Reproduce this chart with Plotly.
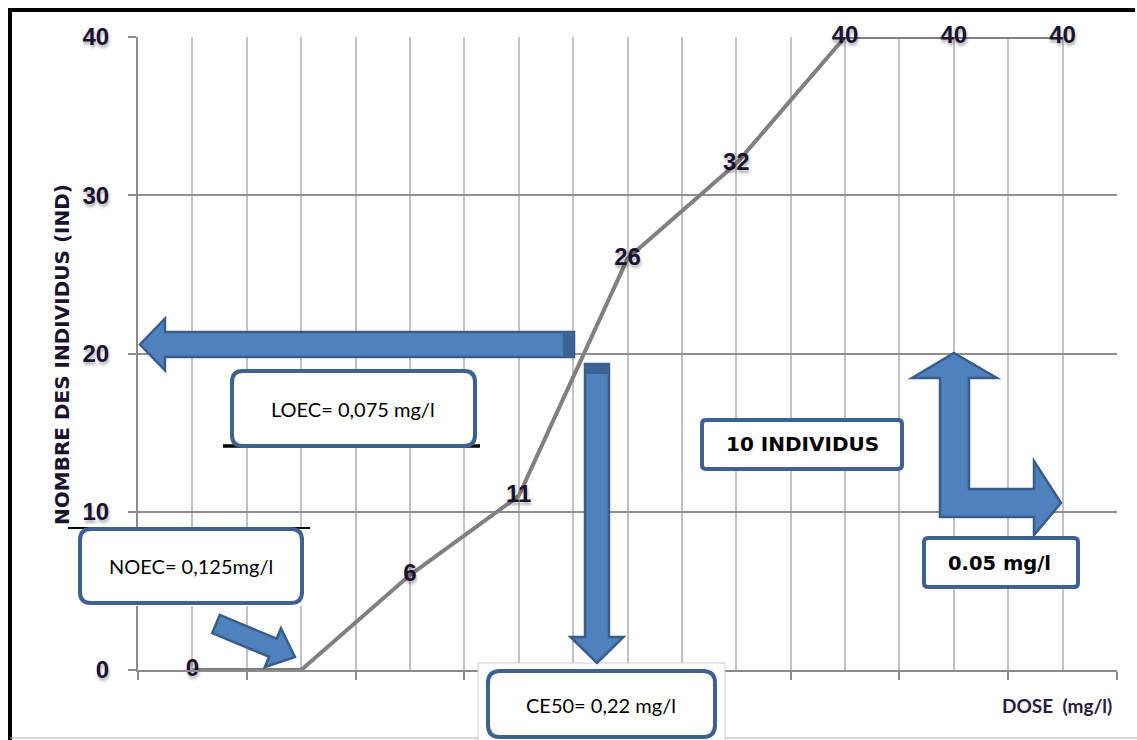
import math
import plotly.graph_objects as go

# ---------------- data ----------------
steps = [1, 2, 3, 4, 5, 6, 7, 8, 9]
individus = [0, 0, 6, 11, 26, 32, 40, 40, 40]
point_labels = ["0", "", "6", "11", "26", "32", "40", "40", "40"]
y_ticks = [0, 10, 20, 30, 40]

# ---------------- geometry helpers (pixel -> paper) ----------------
W, H = 1137, 740
L, T, R, B = 138, 37, 1117, 670


def px(x):
    return (x - L) / (R - L)


def py(y):
    return (B - y) / (B - T)


def P(x, y):
    return f"{px(x):.5f},{py(y):.5f}"


def poly(pts):
    return "M " + " L ".join(P(*p) for p in pts) + " Z"


def rrect(x0, y0, x1, y1, r):
    return ("M " + P(x0 + r, y0) + " L " + P(x1 - r, y0) + " Q " + P(x1, y0) + " " + P(x1, y0 + r)
            + " L " + P(x1, y1 - r) + " Q " + P(x1, y1) + " " + P(x1 - r, y1)
            + " L " + P(x0 + r, y1) + " Q " + P(x0, y1) + " " + P(x0, y1 - r)
            + " L " + P(x0, y0 + r) + " Q " + P(x0, y0) + " " + P(x0 + r, y0) + " Z")


FILL = "#4f81bd"
EDGE = "#385d8a"
DARK = "#3b6494"
shapes = []


def add_path(path, fill=None, line_color=None, width=0):
    shapes.append(dict(type="path", xref="paper", yref="paper", path=path,
                       fillcolor=fill if fill else "rgba(0,0,0,0)",
                       line=dict(color=line_color if line_color else "rgba(0,0,0,0)", width=width),
                       layer="above"))


def add_line(x0, y0, x1, y1, color, width):
    shapes.append(dict(type="line", xref="paper", yref="paper",
                       x0=px(x0), y0=py(y0), x1=px(x1), y1=py(y1),
                       line=dict(color=color, width=width), layer="above"))


def add_rect(x0, y0, x1, y1, fill, line_color=None, width=0):
    shapes.append(dict(type="rect", xref="paper", yref="paper",
                       x0=px(x0), y0=py(y0), x1=px(x1), y1=py(y1), fillcolor=fill,
                       line=dict(color=line_color if line_color else "rgba(0,0,0,0)", width=width),
                       layer="above"))


# frame
add_line(8, 10, 1135, 10, "black", 4)
add_line(10, 8, 10, 740, "black", 4)
add_line(10, 738, 1137, 738, "#b0b0b0", 1)

# NOEC box
add_rect(68, 528, 310, 606, "white")
add_line(68, 528, 310, 528, "black", 2)
add_path(rrect(80, 529, 302, 603, 11), "white", "#3d6190", 4)

# LOEC box
add_rect(223, 371, 480, 446, "white")
add_line(223, 446, 480, 446, "black", 3.5)
add_path(rrect(232, 371, 475, 446, 11), "white", "#3d6190", 4)

# CE50 box
add_rect(478, 663, 725, 745, "white", "#cfcfcf", 1)
add_path(rrect(488, 671, 715, 737, 12), "white", "#3d6190", 4)

# 10 INDIVIDUS / 0.05 mg/l boxes
add_path(rrect(702, 420, 902, 469, 4), "white", "#3d6190", 4)
add_path(rrect(924, 538, 1078, 587, 4), "white", "#3d6190", 4)

# left arrow
cy, sh, hh = 344.5, 12.5, 26
add_path(poly([(574, cy - sh), (165, cy - sh), (165, cy - hh), (140, cy), (165, cy + hh),
               (165, cy + sh), (574, cy + sh)]), FILL, EDGE, 2.5)
add_rect(563, cy - sh, 574, cy + sh, DARK)

# down arrow
cx, sw, hw = 597, 12, 26.5
add_path(poly([(cx - sw, 364), (cx + sw, 364), (cx + sw, 637), (cx + hw, 637), (cx, 663),
               (cx - hw, 637), (cx - sw, 637)]), FILL, EDGE, 2.5)
add_rect(cx - sw, 364, cx + sw, 374, DARK)

# NOEC diagonal arrow
tx, ty = 216, 624
hx, hy = 295, 657
dx, dy = hx - tx, hy - ty
ln = math.hypot(dx, dy)
ux, uy = dx / ln, dy / ln
nx, ny = -uy, ux
s_half, h_half, h_len = 9.8, 21, 24
bx, by = hx - ux * h_len, hy - uy * h_len
add_path(poly([(tx + nx * s_half, ty + ny * s_half), (bx + nx * s_half, by + ny * s_half),
               (bx + nx * h_half, by + ny * h_half), (hx, hy),
               (bx - nx * h_half, by - ny * h_half), (bx - nx * s_half, by - ny * s_half),
               (tx - nx * s_half, ty - ny * s_half)]), FILL, EDGE, 2.5)

# L-shaped double arrow
add_path(poly([(954, 353), (997, 378), (969, 378), (969, 489), (1034, 489), (1034, 461),
               (1061, 503), (1034, 535), (1034, 517), (940, 517), (940, 378), (912, 378)]),
         FILL, EDGE, 2.5)

# ---------------- annotations ----------------
NARROW = "Lato, Open Sans, sans-serif"
VERD = "DejaVu Sans, Verdana, sans-serif"
annotations = []


def add_text(x, y, text, family, size, color="black", weight="normal", angle=0):
    annotations.append(dict(x=px(x), y=py(y), xref="paper", yref="paper", text=text,
                            showarrow=False, xanchor="center", yanchor="middle",
                            textangle=angle,
                            font=dict(family=family, size=size, color=color, weight=weight)))


add_text(191, 566, "NOEC= 0,125mg/l", NARROW, 20)
add_text(353, 409, "LOEC= 0,075 mg/l", NARROW, 20)
add_text(601, 705, "CE50= 0,22 mg/l", NARROW, 20)
add_text(802, 444, "10 INDIVIDUS", VERD, 20, weight="bold")
add_text(999, 563, "0.05 mg/l", VERD, 19.5, weight="bold")
add_text(1057, 705, "DOSE  (mg/l)", NARROW, 19, color="#2b1b3f", weight="bold")
add_text(62, 355, "NOMBRE DES INDIVIDUS (IND)", VERD, 20, color="#1b1230", weight="bold", angle=-90)

# ---------------- figure ----------------
fig = go.Figure()
fig.add_trace(go.Scatter(
    x=steps, y=individus, mode="lines+text", text=point_labels,
    textposition="middle center",
    line=dict(color="#808080", width=4),
    textfont=dict(family="Liberation Sans, Arial, sans-serif", size=24, color="#1b1230",
                  weight="bold", shadow="1px 3px 3px rgba(0,0,0,0.3)"),
    cliponaxis=False, hoverinfo="skip", showlegend=False))

fig.update_layout(
    width=W, height=H,
    margin=dict(l=L, r=W - R, t=T, b=H - B, pad=0),
    paper_bgcolor="white", plot_bgcolor="white",
    shapes=shapes, annotations=annotations,
    xaxis=dict(range=[0.5, 9.5], tick0=0.5, dtick=1, showticklabels=False,
               ticks="outside", ticklen=8, tickcolor="#8c8c8c", tickwidth=1.5,
               showgrid=True, gridcolor="#c2c2c2", gridwidth=1.5,
               minor=dict(dtick=0.5, tick0=0.5, showgrid=True, gridcolor="#c2c2c2", gridwidth=1.5),
               showline=True, linecolor="#8c8c8c", linewidth=2, zeroline=False),
    yaxis=dict(range=[0, 40], tickvals=y_ticks, ticktext=[str(v) for v in y_ticks],
               ticks="outside", ticklen=8, tickcolor="#8c8c8c", tickwidth=1.5,
               ticklabelstandoff=14,
               tickfont=dict(family="Liberation Sans, Arial, sans-serif", size=24, color="#1b1230",
                             weight="bold", shadow="1px 3px 3px rgba(0,0,0,0.3)"),
               showgrid=True, gridcolor="#8f8f8f", gridwidth=1.5,
               showline=True, linecolor="#8c8c8c", linewidth=2, zeroline=False),
)

fig.write_html("out.html", config={"displayModeBar": False},
               post_script="document.body.style.margin='0';")
